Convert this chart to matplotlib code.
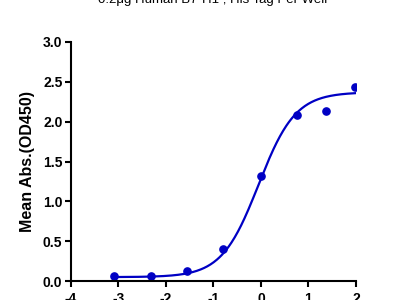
import numpy as np
import matplotlib
matplotlib.use("Agg")
import matplotlib.pyplot as plt

plt.rcParams['font.family'] = ['Liberation Sans', 'DejaVu Sans']

title = "0.2μg Human B7-H1 ; His Tag Per Well"
log_conc = [-3.10, -2.32, -1.55, -0.79, 0.0, 0.76, 1.37, 1.98]
od450 = [0.06, 0.07, 0.13, 0.40, 1.32, 2.08, 2.14, 2.44]
x_ticks = [-4, -3, -2, -1, 0, 1, 2]
y_ticks = [0.0, 0.5, 1.0, 1.5, 2.0, 2.5, 3.0]

# 4PL fit parameters (bottom, top, logEC50, hill)
bottom, top, log_ec50, hill = 0.05, 2.37, -0.05, 1.12

color = '#0000c4'
fig = plt.figure(figsize=(4, 3), dpi=100)
ax = fig.add_axes([0.177, 0.063, 0.713, 0.797])

xs = np.linspace(min(log_conc), max(log_conc), 300)
ys = bottom + (top - bottom) / (1 + 10 ** (hill * (log_ec50 - xs)))
ax.plot(xs, ys, color=color, lw=1.6)
ax.plot(log_conc, od450, 'o', color=color, ms=5.2)

ax.set_xlim(-4, 2)
ax.set_ylim(0, 3)
ax.set_xticks(x_ticks)
ax.set_yticks(y_ticks)
ax.set_yticklabels([f"{v:.1f}" for v in y_ticks], fontweight='bold')
ax.set_xticklabels([str(v) for v in x_ticks], fontweight='bold')
ax.tick_params(labelsize=10, width=1.5, length=4.5, pad=1.5)
ax.tick_params(axis='x', pad=3.5)
for s in ['top', 'right']:
    ax.spines[s].set_visible(False)
for s in ['left', 'bottom']:
    ax.spines[s].set_linewidth(1.5)
ax.set_ylabel("Mean Abs.(OD450)", fontsize=11.5, fontweight='bold', labelpad=6)
fig.text(0.532, 0.99, title, ha='center', va='baseline', fontsize=9.5)

fig.savefig("out.png", dpi=100)
